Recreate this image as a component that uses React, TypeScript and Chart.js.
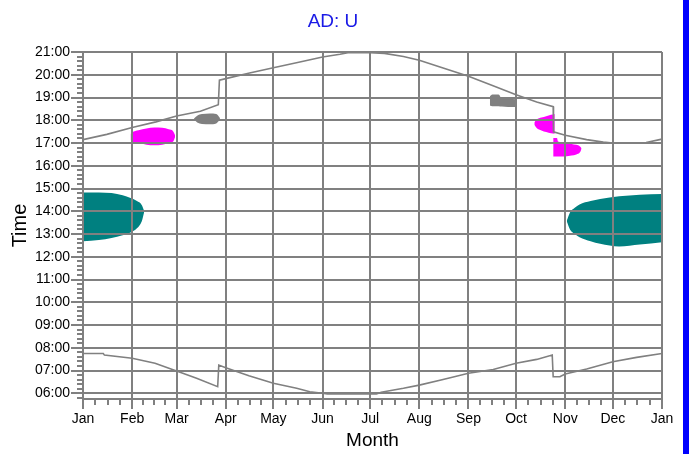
import React, { useEffect, useRef } from 'react';
import { Chart, registerables } from 'chart.js';

Chart.register(...registerables);

// ---------- text ----------
const TITLE = 'AD: U';
const X_TITLE = 'Month';
const Y_TITLE = 'Time';

// ---------- axes ----------
const monthLabels = ['Jan', 'Feb', 'Mar', 'Apr', 'May', 'Jun', 'Jul', 'Aug', 'Sep', 'Oct', 'Nov', 'Dec', 'Jan'];
const monthStartDays = [0, 31, 59, 90, 120, 151, 181, 212, 243, 273, 304, 334, 365];
const hourTicks = [6, 7, 8, 9, 10, 11, 12, 13, 14, 15, 16, 17, 18, 19, 20, 21];
const Y_MIN = 5.75;
const Y_MAX = 21;

// ---------- upper curve (evening) ----------
const sunsetDays = [0, 15, 31, 46, 59, 74, 85.3, 86, 90, 105, 120, 136, 151, 162, 167, 181, 190, 202, 212, 227, 243, 258.5, 273, 286, 296.4, 296.6, 304, 317.5, 328, 334, 355, 363.5, 365];
const sunsetHours = [17.15, 17.38, 17.68, 17.93, 18.19, 18.4, 18.68, 19.76, 19.83, 20.08, 20.31, 20.55, 20.78, 20.9, 20.97, 20.97, 20.94, 20.8, 20.64, 20.3, 19.93, 19.52, 19.12, 18.8, 18.6, 17.49, 17.34, 17.15, 17.04, 17.0, 17.02, 17.15, 17.17];

// ---------- lower curve (morning) ----------
const sunriseDays = [0, 12.8, 13.5, 31, 45.4, 59, 71.6, 84.9, 85.6, 90, 104.6, 120, 134.7, 143, 151, 154, 185, 188, 202, 212, 227, 243, 258.6, 273, 286, 295.8, 296.4, 300.6, 304, 317.5, 334, 349, 365];
const sunriseHours = [7.75, 7.75, 7.68, 7.54, 7.32, 6.98, 6.66, 6.29, 7.24, 7.12, 6.77, 6.44, 6.22, 6.07, 6.0, 5.97, 5.97, 6.05, 6.22, 6.36, 6.61, 6.88, 7.05, 7.32, 7.49, 7.68, 6.73, 6.73, 6.85, 7.07, 7.39, 7.58, 7.75];

// ---------- regions ----------
const tealADays = [0, 10, 18, 25, 30, 34, 37, 38.5];
const tealATop = [14.83, 14.83, 14.8, 14.7, 14.58, 14.45, 14.28, 14.03];
const tealABottom = [12.68, 12.74, 12.83, 12.95, 13.07, 13.25, 13.55, 13.95];

const tealBDays = [305, 307, 310, 313, 320, 326, 338, 351, 365];
const tealBTop = [13.59, 13.95, 14.15, 14.3, 14.45, 14.54, 14.66, 14.73, 14.76];
const tealBBottom = [13.55, 13.2, 13.0, 12.86, 12.68, 12.57, 12.45, 12.54, 12.64];

const magentaADays = [30, 31, 35, 40, 45, 50, 54, 57, 58];
const magentaATop = [17.4, 17.47, 17.56, 17.64, 17.68, 17.67, 17.6, 17.5, 17.35];
const magentaABottom = [17.12, 17.06, 17.02, 16.92, 16.9, 16.92, 17.0, 17.08, 17.25];

const magentaBDays = [284.5, 286, 289, 292, 295, 297.4];
const magentaBTop = [17.9, 18.03, 18.12, 18.18, 18.24, 18.28];
const magentaBBottom = [17.8, 17.66, 17.55, 17.48, 17.43, 17.41];

const magentaCDays = [296.4, 298.8, 299.4, 304, 308, 311, 313.3, 314.3];
const magentaCTop = [17.22, 17.22, 17.07, 17.04, 16.96, 16.92, 16.85, 16.77];
const magentaCBottom = [16.41, 16.41, 16.41, 16.41, 16.45, 16.5, 16.59, 16.75];

const grayADays = [70, 72, 75, 80, 84, 86.3];
const grayATop = [18.08, 18.2, 18.27, 18.3, 18.27, 18.1];
const grayABottom = [18.04, 17.9, 17.84, 17.82, 17.86, 18.02];

const grayBDays = [256.5, 258, 262, 264, 268, 273.3];
const grayBTop = [19.05, 19.13, 19.13, 18.95, 18.93, 18.92];
const grayBBottom = [18.65, 18.62, 18.62, 18.6, 18.58, 18.58];

// ---------- style ----------
const GRID = '#808080';
const TEAL = '#008080';
const MAGENTA = '#ff00ff';
const GRAY = '#808080';
const TITLE_COLOR = '#1a1ae6';
const FONT = '"Liberation Sans", Arial, sans-serif';

const toPoints = (xs: number[], ys: number[]) => xs.map((x, i) => ({ x, y: ys[i] }));

const regions = [
  { days: tealADays, top: tealATop, bottom: tealABottom, color: TEAL },
  { days: tealBDays, top: tealBTop, bottom: tealBBottom, color: TEAL },
  { days: magentaADays, top: magentaATop, bottom: magentaABottom, color: MAGENTA },
  { days: magentaBDays, top: magentaBTop, bottom: magentaBBottom, color: MAGENTA },
  { days: magentaCDays, top: magentaCTop, bottom: magentaCBottom, color: MAGENTA },
  { days: grayADays, top: grayATop, bottom: grayABottom, color: GRAY },
  { days: grayBDays, top: grayBTop, bottom: grayBBottom, color: GRAY },
];

const minorTicksPlugin = {
  id: 'minorTicks',
  afterDraw(chart: any) {
    const { ctx, chartArea } = chart;
    const xs = chart.scales.x;
    const ys = chart.scales.y;
    ctx.save();
    ctx.strokeStyle = GRID;
    ctx.lineWidth = 2;
    ctx.beginPath();
    for (let i = 0; i < monthStartDays.length - 1; i++) {
      const a = monthStartDays[i];
      const b = monthStartDays[i + 1];
      for (let k = 1; k < 4; k++) {
        const px = Math.round(xs.getPixelForValue(a + ((b - a) * k) / 4));
        ctx.moveTo(px, chartArea.bottom);
        ctx.lineTo(px, chartArea.bottom + 6);
      }
    }
    for (let h = hourTicks[0] - 1; h < hourTicks[hourTicks.length - 1]; h++) {
      for (let k = 1; k < 5; k++) {
        const v = h + k / 5;
        if (v < Y_MIN) continue;
        const py = Math.round(ys.getPixelForValue(v));
        ctx.moveTo(chartArea.left - 6, py);
        ctx.lineTo(chartArea.left, py);
      }
    }
    ctx.stroke();
    ctx.restore();
  },
};

const titlePlugin = {
  id: 'topTitle',
  afterDraw(chart: any) {
    const { ctx } = chart;
    ctx.save();
    ctx.font = `19px ${FONT}`;
    ctx.fillStyle = TITLE_COLOR;
    ctx.textAlign = 'center';
    ctx.textBaseline = 'middle';
    ctx.fillText(TITLE, 333, 22);
    ctx.restore();
  },
};

export default function App() {
  const canvasRef = useRef<HTMLCanvasElement | null>(null);

  useEffect(() => {
    const canvas = canvasRef.current;
    if (!canvas) return;

    const datasets: any[] = [
      {
        label: 'evening',
        data: toPoints(sunsetDays, sunsetHours),
        borderColor: GRID,
        borderWidth: 1.6,
        pointRadius: 0,
        fill: false,
        tension: 0,
      },
      {
        label: 'morning',
        data: toPoints(sunriseDays, sunriseHours),
        borderColor: GRID,
        borderWidth: 1.6,
        pointRadius: 0,
        fill: false,
        tension: 0,
      },
    ];
    regions.forEach((r, i) => {
      datasets.push({
        label: `region${i}-top`,
        data: toPoints(r.days, r.top),
        borderWidth: 0,
        borderColor: r.color,
        backgroundColor: r.color,
        pointRadius: 0,
        cubicInterpolationMode: 'monotone',
        fill: '+1',
      });
      datasets.push({
        label: `region${i}-bottom`,
        data: toPoints(r.days, r.bottom),
        borderWidth: 0,
        borderColor: r.color,
        backgroundColor: r.color,
        pointRadius: 0,
        cubicInterpolationMode: 'monotone',
        fill: false,
      });
    });

    const chart = new Chart(canvas, {
      type: 'line',
      data: { datasets },
      options: {
        animation: false,
        responsive: false,
        maintainAspectRatio: false,
        layout: { padding: { top: 52, right: 27, left: 0, bottom: 0 } },
        plugins: {
          legend: { display: false },
          tooltip: { enabled: false },
          title: { display: false },
          filler: { propagate: false },
        },
        scales: {
          x: {
            type: 'linear',
            min: monthStartDays[0],
            max: monthStartDays[monthStartDays.length - 1],
            afterBuildTicks: (s: any) => {
              s.ticks = monthStartDays.map((v) => ({ value: v }));
            },
            afterFit: (s: any) => {
              s.height = 55;
            },
            ticks: {
              autoSkip: false,
              maxRotation: 0,
              padding: 2,
              color: '#000',
              font: { size: 14, family: FONT },
              callback: (_v: any, i: number) => monthLabels[i],
            },
            grid: { color: GRID, lineWidth: 2, tickLength: 10, tickColor: GRID, z: 1 },
            border: { color: GRID, width: 2, z: 1 },
            title: {
              display: true,
              text: X_TITLE,
              color: '#000',
              font: { size: 19, family: FONT },
              padding: { top: 0, bottom: 2 },
            },
          },
          y: {
            type: 'linear',
            min: Y_MIN,
            max: Y_MAX,
            afterBuildTicks: (s: any) => {
              s.ticks = hourTicks.map((v) => ({ value: v }));
            },
            afterFit: (s: any) => {
              s.width = 83;
            },
            ticks: {
              autoSkip: false,
              padding: 1,
              color: '#000',
              font: { size: 14, family: FONT },
              callback: (v: any) => `${String(v).padStart(2, '0')}:00`,
            },
            grid: { color: GRID, lineWidth: 2, tickLength: 12, tickColor: GRID, z: 1 },
            border: { color: GRID, width: 2, z: 1 },
            title: {
              display: true,
              text: Y_TITLE,
              color: '#000',
              font: { size: 20, family: FONT },
              padding: { top: 8, bottom: 0 },
            },
          },
        },
      },
      plugins: [minorTicksPlugin, titlePlugin],
    });

    return () => chart.destroy();
  }, []);

  return (
    <div style={{ position: 'absolute', left: 0, top: 0, width: 689, height: 454, background: '#fff' }}>
      <canvas ref={canvasRef} width={689} height={454} style={{ display: 'block' }} />
      <div style={{ position: 'absolute', left: 683, top: 0, width: 6, height: 454, background: '#0000ff' }} />
    </div>
  );
}
